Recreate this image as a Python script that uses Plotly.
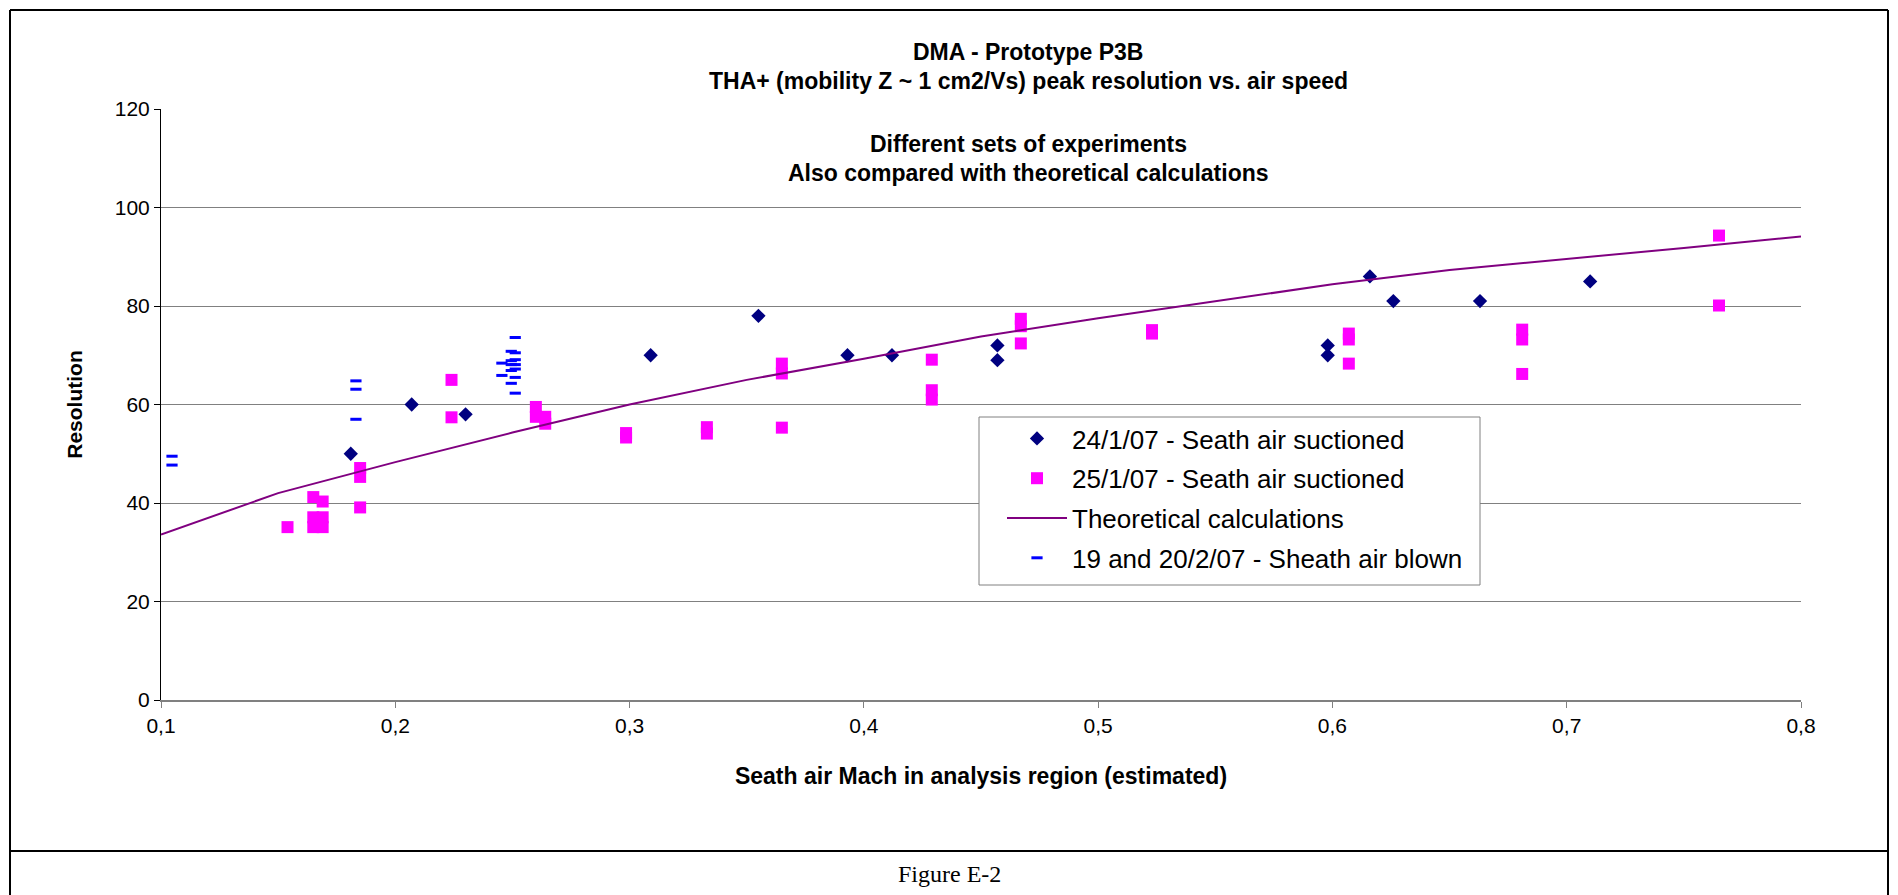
import plotly.graph_objects as go

# --- data -------------------------------------------------------------
# 24/1/07 - sheath air suctioned
mach_2401 = [0.181, 0.207, 0.230, 0.309, 0.355, 0.393, 0.412, 0.457, 0.457,
             0.598, 0.598, 0.616, 0.626, 0.663, 0.710]
res_2401 = [50, 60, 58, 70, 78, 70, 70, 72, 69, 72, 70, 86, 81, 81, 85]

# 25/1/07 - sheath air suctioned
mach_2501 = [0.154, 0.165, 0.169, 0.165, 0.165, 0.169, 0.169, 0.185, 0.185, 0.185,
             0.224, 0.224, 0.260, 0.260, 0.264, 0.264, 0.2985, 0.2985, 0.333, 0.333,
             0.365, 0.365, 0.365, 0.429, 0.429, 0.429, 0.467, 0.467, 0.467,
             0.523, 0.523, 0.607, 0.607, 0.607, 0.681, 0.681, 0.681, 0.765, 0.765]
res_2501 = [35.1, 41.2, 40.3, 37.1, 35.1, 37.1, 35.1, 47.1, 45.3, 39.1,
            65.0, 57.4, 59.5, 57.5, 57.5, 56.1, 54.2, 53.3, 55.4, 54.1,
            68.3, 66.3, 55.3, 69.1, 62.9, 61.0, 77.4, 75.9, 72.4,
            75.1, 74.4, 74.4, 73.2, 68.3, 75.2, 73.2, 66.2, 94.3, 80.1]

# Theoretical calculations
mach_theory = [0.10, 0.15, 0.20, 0.25, 0.30, 0.35, 0.40, 0.45, 0.50, 0.55,
               0.60, 0.65, 0.70, 0.75, 0.80]
res_theory = [33.6, 42.0, 48.3, 54.3, 60.0, 65.0, 69.3, 73.8, 77.5, 81.0,
              84.4, 87.3, 89.5, 91.8, 94.1]

# 19 and 20/2/07 - sheath air blown
mach_1902 = [0.1047, 0.1047, 0.1832, 0.1832, 0.1832, 0.2512, 0.2495, 0.2512,
             0.2455, 0.2495, 0.2512, 0.2512, 0.2495, 0.2512, 0.2495, 0.2455,
             0.2512, 0.2495, 0.2512]
res_1902 = [49.5, 47.7, 64.8, 63.1, 57.0, 73.6, 70.8, 70.5, 68.4, 68.9, 69.1,
            68.1, 68.1, 67.2, 66.9, 65.9, 65.5, 64.3, 62.3]

x_ticks = [0.1, 0.2, 0.3, 0.4, 0.5, 0.6, 0.7, 0.8]
y_ticks = [0, 20, 40, 60, 80, 100, 120]

# --- page geometry (pixels) -----------------------------------------------
W, H = 1898, 895
PL, PR, PT, PB = 161, 1801, 109, 700   # plot area edges


def px(xp):
    return (xp - PL) / (PR - PL)


def py(yp):
    return (PB - yp) / (PB - PT)


FONT = "Liberation Sans, Arial, sans-serif"

fig = go.Figure()

fig.add_trace(go.Scatter(
    x=mach_2401, y=res_2401, mode="markers",
    name="24/1/07 - Seath air suctioned", legendgroup="a",
    marker=dict(symbol="diamond", size=11, color="#000080"),
))
fig.add_trace(go.Scatter(
    x=mach_2501, y=res_2501, mode="markers",
    name="25/1/07 - Seath air suctioned", legendgroup="b",
    marker=dict(symbol="square", size=12, color="#FF00FF"),
))
fig.add_trace(go.Scatter(
    x=mach_theory, y=res_theory, mode="lines",
    name="Theoretical calculations", legendgroup="c",
    line=dict(color="#800080", width=2),
))
fig.add_trace(go.Scatter(
    x=mach_1902, y=res_1902, mode="markers",
    name="19 and 20/2/07 - Sheath air blown", legendgroup="d",
    marker=dict(symbol="line-ew", size=8, color="#0000FF",
                line=dict(color="#0000FF", width=3)),
))

shapes = []
# outer frame of the figure cell and the caption separator
line_k = dict(color="black", width=2)
shapes.append(dict(type="line", xref="paper", yref="paper",
                   x0=px(10), x1=px(1888), y0=py(10), y1=py(10), line=line_k))
shapes.append(dict(type="line", xref="paper", yref="paper",
                   x0=px(10), x1=px(10), y0=py(10), y1=py(895), line=line_k))
shapes.append(dict(type="line", xref="paper", yref="paper",
                   x0=px(1888), x1=px(1888), y0=py(10), y1=py(895), line=line_k))
shapes.append(dict(type="line", xref="paper", yref="paper",
                   x0=px(10), x1=px(1888), y0=py(851), y1=py(851), line=line_k))
# legend frame
shapes.append(dict(type="rect", xref="paper", yref="paper", layer="above",
                   x0=px(979), x1=px(1480), y0=py(417), y1=py(585),
                   fillcolor="white", line=dict(color="#808080", width=1)))

title_font = dict(family=FONT, size=23, color="black")
annotations = []
for txt, yy in [("<b>DMA - Prototype P3B</b>", 52),
                ("<b>THA+ (mobility Z ~ 1 cm2/Vs) peak resolution vs. air speed</b>", 81),
                ("<b>Different sets of experiments</b>", 144),
                ("<b>Also compared with theoretical calculations</b>", 173)]:
    annotations.append(dict(text=txt, xref="paper", yref="paper",
                            x=px(1028), y=py(yy), xanchor="center", yanchor="middle",
                            showarrow=False, font=title_font))
annotations.append(dict(text="Figure E-2", xref="paper", yref="paper",
                        x=px(949), y=py(874), xanchor="center", yanchor="middle",
                        showarrow=False,
                        font=dict(family="Liberation Serif, Times New Roman, serif",
                                  size=24, color="black")))

fig.update_layout(
    width=W, height=H, autosize=False,
    margin=dict(l=PL, r=W - PR, t=PT, b=H - PB, pad=0),
    paper_bgcolor="white", plot_bgcolor="white",
    separators=", ",
    font=dict(family=FONT, size=21, color="black"),
    xaxis=dict(range=[0.1, 0.8], tickvals=x_ticks, tickformat=".1f",
               showgrid=False, zeroline=False,
               showline=True, linecolor="#808080", linewidth=1.5,
               ticks="outside", ticklen=6, tickcolor="#808080",
               tickfont=dict(size=21),
               title=dict(text="<b>Seath air Mach in analysis region (estimated)</b>",
                          font=dict(size=23), standoff=32)),
    yaxis=dict(range=[0, 120], tickvals=y_ticks,
               showgrid=True, gridcolor="#808080", gridwidth=1.3,
               zeroline=False, showline=True, linecolor="black", linewidth=1,
               ticks="outside", ticklen=6, tickcolor="black",
               tickfont=dict(size=21),
               title=dict(text="<b>Resolution</b>", font=dict(size=21), standoff=26)),
    legend=dict(x=px(1002), y=py(415), xanchor="left", yanchor="top",
                bgcolor="rgba(0,0,0,0)", borderwidth=0,
                font=dict(size=26, family=FONT),
                traceorder="grouped", tracegroupgap=3, itemwidth=60),
    shapes=shapes,
    annotations=annotations,
)

fig.write_html("out.html")
